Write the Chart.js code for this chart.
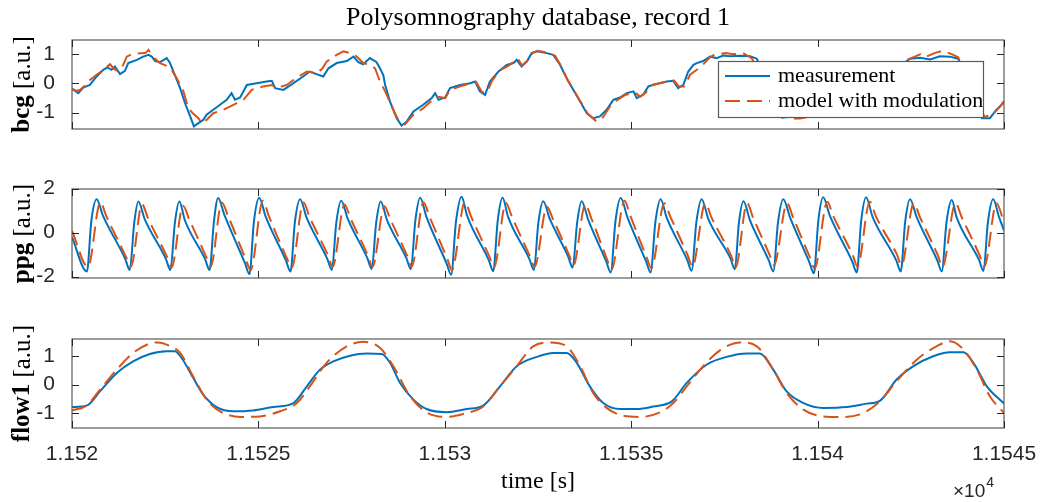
<!DOCTYPE html>
<html><head><meta charset="utf-8">
<script src="https://cdn.jsdelivr.net/npm/chart.js@4.4.1/dist/chart.umd.min.js"></script>
<style>
html,body{margin:0;padding:0;background:#fff;}
#wrap{position:relative;width:1049px;height:502px;background:#fff;}
#wrap canvas{position:absolute;left:0;top:0;}
</style></head><body>
<div id="wrap">
<canvas id="c1" width="1049" height="502"></canvas>
<canvas id="c2" width="1049" height="502"></canvas>
<canvas id="c3" width="1049" height="502"></canvas>
</div>
<script>
// ---- data (time in seconds after T0) ----
const T0 = 11520;
const xTickValues = [11520, 11525, 11530, 11535, 11540, 11545];
const xTickLabels = ['1.152', '1.1525', '1.153', '1.1535', '1.154', '1.1545'];
const bcgTicks = [-1, 0, 1];
const ppgTicks = [-2, 0, 2];
const flowTicks = [-1, 0, 1];

const bcgMeas = [[0.00,-0.18],[0.17,-0.33],[0.30,-0.14],[0.48,-0.05],[0.66,0.24],[0.84,0.47],[0.95,0.55],[1.06,0.47],[1.15,0.58],[1.29,0.32],[1.42,0.43],[1.51,0.70],[1.74,0.81],[1.91,0.92],[2.05,0.98],[2.14,0.92],[2.23,0.77],[2.36,0.73],[2.54,0.87],[2.63,0.70],[2.76,0.29],[2.90,-0.16],[3.03,-0.67],[3.17,-1.13],[3.27,-1.47],[3.39,-1.36],[3.52,-1.25],[3.61,-1.07],[3.79,-0.90],[3.97,-0.73],[4.15,-0.56],[4.28,-0.33],[4.37,-0.56],[4.51,-0.48],[4.69,-0.05],[4.95,0.01],[5.22,0.07],[5.36,0.09],[5.45,-0.16],[5.67,-0.22],[5.94,0.01],[6.20,0.24],[6.38,0.41],[6.56,0.32],[6.74,0.24],[6.88,0.52],[7.10,0.70],[7.37,0.77],[7.55,0.92],[7.68,0.73],[7.81,0.66],[7.99,0.87],[8.17,0.73],[8.26,0.52],[8.35,0.29],[8.40,-0.05],[8.53,-0.62],[8.71,-1.19],[8.84,-1.44],[8.98,-1.30],[9.16,-0.96],[9.42,-0.73],[9.65,-0.50],[9.74,-0.33],[9.83,-0.56],[10.01,-0.48],[10.14,-0.16],[10.41,-0.05],[10.68,0.01],[10.81,0.07],[10.94,-0.27],[11.08,-0.39],[11.21,0.07],[11.44,0.41],[11.66,0.64],[11.84,0.70],[11.93,0.81],[12.06,0.58],[12.20,0.75],[12.33,1.04],[12.47,1.10],[12.73,1.04],[12.91,0.98],[13.09,0.64],[13.27,0.18],[13.45,-0.22],[13.63,-0.62],[13.81,-1.02],[13.98,-1.19],[14.16,-1.13],[14.34,-0.90],[14.52,-0.56],[14.70,-0.48],[14.88,-0.33],[15.06,-0.27],[15.15,-0.50],[15.32,-0.39],[15.46,-0.10],[15.68,-0.02],[15.95,0.07],[16.13,0.09],[16.26,-0.16],[16.40,-0.05],[16.53,0.41],[16.67,0.64],[16.76,0.70],[16.93,0.77],[17.11,0.92],[17.29,0.87],[17.47,0.96],[17.65,0.93],[17.92,0.95],[18.19,0.93],[18.37,0.85],[18.59,0.20],[18.78,-0.60],[18.99,-1.10],[19.05,-1.17],[19.18,-1.15],[19.39,-0.90],[19.66,-0.60],[19.93,-0.45],[20.20,-0.20],[20.60,0.00],[21.00,0.05],[21.41,0.20],[21.81,0.35],[22.16,0.55],[22.48,0.85],[22.75,0.88],[23.02,0.82],[23.28,0.93],[23.55,0.92],[23.77,0.85],[23.95,0.30],[24.14,-0.50],[24.30,-1.00],[24.41,-1.19],[24.62,-1.19],[24.80,-0.90],[25.00,-0.65]];

const bcgModel = [[0.00,-0.18],[0.11,-0.25],[0.21,-0.22],[0.32,-0.10],[0.48,0.12],[0.66,0.30],[0.84,0.47],[1.02,0.66],[1.13,0.50],[1.24,0.41],[1.34,0.55],[1.47,0.92],[1.60,1.00],[1.87,1.04],[1.98,1.05],[2.05,1.15],[2.14,0.98],[2.23,0.85],[2.36,0.70],[2.58,0.58],[2.68,0.45],[2.81,0.18],[2.99,-0.27],[3.12,-0.85],[3.24,-1.02],[3.39,-1.19],[3.48,-1.36],[3.61,-1.25],[3.79,-1.02],[4.06,-0.90],[4.33,-0.73],[4.60,-0.56],[4.82,-0.22],[5.13,-0.10],[5.36,-0.05],[5.49,-0.16],[5.76,-0.05],[5.94,0.12],[6.30,0.41],[6.56,0.35],[6.71,0.50],[6.83,0.75],[7.10,0.98],[7.28,1.10],[7.46,1.04],[7.64,0.92],[7.81,0.70],[7.99,0.64],[8.13,0.52],[8.26,0.07],[8.40,-0.27],[8.48,-0.50],[8.66,-1.02],[8.80,-1.36],[8.93,-1.40],[9.16,-1.07],[9.42,-0.85],[9.66,-0.58],[9.79,-0.45],[10.01,-0.50],[10.14,-0.22],[10.41,-0.10],[10.68,0.00],[10.84,0.05],[11.00,-0.30],[11.13,-0.30],[11.27,0.10],[11.48,0.45],[11.70,0.60],[11.86,0.75],[11.96,0.85],[12.07,0.62],[12.23,0.80],[12.36,1.05],[12.50,1.12],[12.77,1.05],[12.96,0.95],[13.14,0.55],[13.30,0.10],[13.49,-0.30],[13.68,-0.70],[13.84,-1.05],[14.07,-1.30],[14.22,-1.20],[14.43,-0.79],[14.59,-0.60],[14.83,-0.40],[15.10,-0.30],[15.24,-0.45],[15.40,-0.30],[15.56,-0.05],[15.91,0.05],[16.15,0.10],[16.28,-0.10],[16.42,-0.10],[16.58,0.30],[16.76,0.47],[16.93,0.65],[17.11,0.90],[17.25,1.00],[17.54,1.04],[17.73,1.00],[18.00,1.04],[18.19,0.90],[18.24,0.85],[18.45,0.30],[18.72,-0.60],[18.99,-1.05],[19.26,-1.20],[19.53,-1.20],[19.72,-1.15],[20.06,-0.50],[20.60,-0.10],[21.14,0.10],[21.67,0.30],[22.21,0.70],[22.48,0.85],[22.75,1.00],[22.88,0.90],[23.15,1.05],[23.36,1.12],[23.61,1.00],[23.77,0.90],[24.04,0.10],[24.25,-0.70],[24.49,-1.15],[24.70,-1.05],[24.89,-0.80],[25.00,-0.60]];

const ppgMeas = [[0.00,-0.20],
[0.40,-1.77],[0.52,0.55],[0.66,1.52],[0.83,0.77],[1.43,-1.20],
[1.55,-1.70],[1.67,0.45],[1.78,1.41],[1.95,0.61],[2.52,-1.20],
[2.64,-1.70],[2.76,0.45],[2.88,1.41],[3.03,0.55],[3.57,-1.20],
[3.69,-1.70],[3.81,0.55],[3.92,1.57],[4.08,0.84],[4.64,-1.39],
[4.76,-1.89],[4.88,0.50],[5.02,1.58],[5.20,0.70],[5.74,-1.27],
[5.86,-1.77],[5.98,0.50],[6.12,1.52],[6.29,0.69],[6.85,-1.20],
[6.97,-1.70],[7.09,0.45],[7.22,1.45],[7.40,0.61],[7.92,-1.15],
[8.04,-1.65],[8.16,0.45],[8.28,1.41],[8.45,0.57],[8.97,-1.16],
[9.09,-1.66],[9.21,0.55],[9.34,1.58],[9.51,0.70],[10.05,-1.41],
[10.17,-1.91],[10.30,0.50],[10.45,1.63],[10.60,0.76],[11.18,-1.25],
[11.30,-1.75],[11.42,0.55],[11.55,1.58],[11.70,0.70],[12.27,-1.20],
[12.39,-1.70],[12.51,0.45],[12.64,1.42],[12.82,0.61],[13.31,-1.09],
[13.43,-1.59],[13.55,0.45],[13.67,1.42],[13.85,0.57],[14.33,-1.31],
[14.45,-1.81],[14.58,0.55],[14.72,1.57],[14.90,0.69],[15.40,-1.31],
[15.52,-1.81],[15.65,0.50],[15.79,1.52],[15.95,0.69],[16.50,-1.23],
[16.62,-1.73],[16.75,0.50],[16.89,1.52],[17.07,0.61],[17.66,-1.16],
[17.78,-1.66],[17.89,0.45],[18.01,1.42],[18.19,0.54],[18.69,-1.26],
[18.81,-1.76],[18.94,0.50],[19.08,1.52],[19.26,0.69],[19.78,-1.35],
[19.90,-1.85],[20.02,0.55],[20.15,1.60],[20.33,0.76],[20.93,-1.31],
[21.05,-1.81],[21.17,0.55],[21.30,1.60],[21.48,0.69],[22.11,-1.26],
[22.23,-1.76],[22.35,0.50],[22.48,1.52],[22.66,0.69],[23.21,-1.26],
[23.33,-1.76],[23.46,0.50],[23.60,1.48],[23.73,0.69],[24.33,-1.24],
[24.45,-1.74],[24.57,0.50],[24.71,1.52],[24.87,0.69],[25.00,0.10]];

const ppgModel = [[0.00,0.08],
[0.43,-1.55],[0.76,1.37],[0.92,0.75],[1.45,-1.10],
[1.58,-1.55],[1.88,1.28],[2.04,0.65],[2.55,-1.10],
[2.67,-1.58],[2.98,1.22],[3.14,0.62],[3.60,-1.10],
[3.72,-1.55],[4.02,1.37],[4.18,0.78],[4.66,-1.20],
[4.79,-1.70],[5.12,1.45],[5.28,0.75],[5.76,-1.15],
[5.89,-1.62],[6.21,1.37],[6.37,0.72],[6.87,-1.05],
[6.99,-1.55],[7.31,1.28],[7.47,0.65],[7.94,-1.05],
[8.06,-1.55],[8.38,1.20],[8.54,0.60],[8.99,-1.05],
[9.11,-1.55],[9.43,1.37],[9.59,0.72],[10.07,-1.20],
[10.19,-1.70],[10.54,1.40],[10.70,0.75],[11.20,-1.10],
[11.32,-1.58],[11.64,1.35],[11.80,0.72],[12.29,-1.10],
[12.41,-1.55],[12.74,1.17],[12.90,0.62],[13.33,-1.00],
[13.45,-1.48],[13.77,1.28],[13.93,0.65],[14.35,-1.20],
[14.47,-1.70],[14.82,1.45],[14.98,0.75],[15.42,-1.15],
[15.54,-1.62],[15.89,1.33],[16.05,0.72],[16.52,-1.05],
[16.64,-1.55],[16.99,1.33],[17.15,0.70],[17.68,-1.05],
[17.80,-1.58],[18.11,1.33],[18.27,0.68],[18.71,-1.00],
[18.83,-1.48],[19.18,1.33],[19.34,0.70],[19.80,-1.15],
[19.92,-1.62],[20.26,1.40],[20.42,0.75],[20.95,-1.05],
[21.07,-1.55],[21.40,1.40],[21.56,0.75],[22.13,-1.00],
[22.25,-1.48],[22.58,1.33],[22.74,0.72],[23.23,-1.05],
[23.35,-1.55],[23.70,1.33],[23.86,0.72],[24.35,-1.05],
[24.47,-1.55],[24.80,1.33],[25.00,0.45]];

const flowMeas = [[0.00,-0.79],[0.39,-0.74],[0.75,-0.24],[1.20,0.41],[1.64,0.82],[2.09,1.08],[2.54,1.18],[2.76,1.18],[2.94,0.94],[3.25,0.24],[3.52,-0.35],[3.88,-0.79],[4.33,-0.94],[4.86,-0.91],[5.40,-0.79],[5.94,-0.65],[6.30,-0.06],[6.65,0.53],[7.01,0.82],[7.46,1.02],[7.90,1.10],[8.31,1.08],[8.53,0.77],[8.80,0.06],[9.16,-0.53],[9.51,-0.86],[10.05,-0.97],[10.59,-0.86],[11.03,-0.74],[11.48,-0.06],[11.93,0.65],[12.47,0.98],[12.91,1.12],[13.27,1.12],[13.54,0.77],[13.89,-0.06],[14.25,-0.65],[14.70,-0.86],[15.15,-0.86],[15.59,-0.77],[16.09,-0.59],[16.49,0.06],[17.03,0.71],[17.56,0.98],[18.10,1.10],[18.45,1.10],[18.81,0.53],[19.17,-0.24],[19.62,-0.65],[20.15,-0.82],[20.78,-0.79],[21.32,-0.67],[21.67,-0.57],[22.12,0.18],[22.57,0.65],[23.10,1.00],[23.55,1.14],[23.91,1.14],[24.18,0.77],[24.54,-0.06],[25.00,-0.67]];

const flowModel = [[0.00,-0.91],[0.39,-0.74],[0.75,-0.18],[1.20,0.53],[1.64,1.12],[2.09,1.45],[2.31,1.49],[2.54,1.41],[2.90,1.12],[3.25,0.29],[3.61,-0.53],[3.97,-0.94],[4.51,-1.14],[5.04,-1.12],[5.58,-0.94],[6.03,-0.65],[6.38,-0.06],[6.83,0.77],[7.37,1.35],[7.81,1.51],[8.26,1.30],[8.62,0.65],[9.07,-0.41],[9.51,-0.98],[10.05,-1.14],[10.59,-1.00],[11.03,-0.77],[11.48,-0.06],[11.93,0.65],[12.37,1.35],[12.82,1.49],[13.27,1.35],[13.63,0.65],[13.98,-0.29],[14.34,-0.82],[14.79,-1.10],[15.24,-1.14],[15.77,-0.98],[16.13,-0.65],[16.49,-0.06],[16.93,0.65],[17.38,1.21],[17.92,1.49],[18.37,1.35],[18.81,0.53],[19.17,-0.29],[19.62,-0.88],[20.15,-1.12],[20.69,-1.14],[21.23,-1.00],[21.67,-0.59],[22.12,0.12],[22.66,0.88],[23.19,1.35],[23.55,1.53],[23.91,1.24],[24.27,0.53],[24.62,-0.41],[25.00,-1.00]];

// ---- styling ----
const BLUE = '#0072BD', ORANGE = '#D95319';
const DASH = [15, 7];
const TXT = '#262626';
const SANS = 'Liberation Sans', SERIF = 'Liberation Serif';

function pts(pairs) { return pairs.map(p => ({ x: T0 + p[0], y: p[1] })); }

const framePlugin = {
  id: 'frame',
  afterDatasetsDraw(chart) {
    const { ctx, chartArea: a, scales: { x, y } } = chart;
    ctx.save();
    ctx.strokeStyle = '#5a5a5a'; ctx.lineWidth = 1.2;
    ctx.strokeRect(a.left, a.top, a.right - a.left, a.bottom - a.top);
    ctx.strokeStyle = TXT; ctx.lineWidth = 1;
    const L = 7;
    ctx.beginPath();
    x.ticks.forEach(t => {
      const px = Math.round(x.getPixelForValue(t.value)) + 0.5;
      ctx.moveTo(px, a.bottom); ctx.lineTo(px, a.bottom - L);
      ctx.moveTo(px, a.top); ctx.lineTo(px, a.top + L);
    });
    y.ticks.forEach(t => {
      const py = Math.round(y.getPixelForValue(t.value)) + 0.5;
      ctx.moveTo(a.left, py); ctx.lineTo(a.left + L, py);
      ctx.moveTo(a.right, py); ctx.lineTo(a.right - L, py);
    });
    ctx.stroke();
    ctx.restore();
  }
};

function yTitlePlugin(bold, rest) {
  return {
    id: 'ytitle',
    afterDraw(chart) {
      const { ctx, chartArea: a } = chart;
      ctx.save();
      ctx.translate(23, (a.top + a.bottom) / 2);
      ctx.rotate(-Math.PI / 2);
      const fb = 'bold 25px "' + SERIF + '"', fr = '25px "' + SERIF + '"';
      ctx.font = fb; const wb = ctx.measureText(bold).width;
      ctx.font = fr; const wr = ctx.measureText(rest).width;
      const x0 = -(wb + wr) / 2;
      ctx.fillStyle = '#000'; ctx.textBaseline = 'middle'; ctx.textAlign = 'left';
      ctx.font = fb; ctx.fillText(bold, x0, 0);
      ctx.font = fr; ctx.fillText(rest, x0 + wb, 0);
      ctx.restore();
    }
  };
}

const titlePlugin = {
  id: 'mainTitle',
  afterDraw(chart) {
    const { ctx, chartArea: a } = chart;
    ctx.save();
    ctx.font = '26px "' + SERIF + '"';
    ctx.fillStyle = '#000'; ctx.textAlign = 'center'; ctx.textBaseline = 'middle';
    ctx.fillText('Polysomnography database, record 1', (a.left + a.right) / 2, 18);
    ctx.restore();
  }
};

const legendPlugin = {
  id: 'boxLegend',
  afterDraw(chart) {
    const { ctx } = chart;
    const ds = chart.data.datasets;
    const bx = 718, by = 61, bw = 265, bh = 56;
    ctx.save();
    ctx.fillStyle = '#fff';
    ctx.fillRect(bx, by, bw, bh);
    ctx.strokeStyle = '#5a5a5a'; ctx.lineWidth = 1.2;
    ctx.strokeRect(bx + 0.5, by + 0.5, bw, bh);
    const rows = [76, 101];
    ds.forEach((d, i) => {
      const yy = rows[i];
      ctx.beginPath();
      ctx.setLineDash(d.borderDash || []);
      ctx.strokeStyle = d.borderColor; ctx.lineWidth = d.borderWidth;
      ctx.moveTo(725, yy); ctx.lineTo(770, yy); ctx.stroke();
      ctx.setLineDash([]);
      ctx.font = '22px "' + SERIF + '"';
      ctx.fillStyle = '#000'; ctx.textAlign = 'left'; ctx.textBaseline = 'middle';
      ctx.fillText(d.label, 778, yy);
    });
    ctx.restore();
  }
};

const exponentPlugin = {
  id: 'exponent',
  afterDraw(chart) {
    const { ctx } = chart;
    ctx.save();
    ctx.fillStyle = TXT; ctx.textAlign = 'left'; ctx.textBaseline = 'alphabetic';
    ctx.font = '19px "' + SANS + '"';
    ctx.fillText('\u00d710', 953, 497);
    const w = ctx.measureText('\u00d710').width;
    ctx.font = '14px "' + SANS + '"';
    ctx.fillText('4', 953 + w + 1, 487);
    ctx.restore();
  }
};

function makeChart(id, cfg) {
  return new Chart(document.getElementById(id), {
    type: 'line',
    data: {
      datasets: [
        { label: 'measurement', data: pts(cfg.meas), borderColor: BLUE, borderWidth: 2,
          pointRadius: 0, fill: false, order: 1,
          cubicInterpolationMode: cfg.smooth ? 'monotone' : 'default', tension: 0 },
        { label: 'model with modulation', data: pts(cfg.model), borderColor: ORANGE, borderWidth: 2,
          borderDash: DASH, pointRadius: 0, fill: false, order: 0,
          cubicInterpolationMode: cfg.smooth ? 'monotone' : 'default', tension: 0 }
      ]
    },
    options: {
      responsive: false, animation: false, events: [],
      layout: { padding: { left: 0, right: 45, top: cfg.top, bottom: cfg.bottom } },
      plugins: { legend: { display: false }, tooltip: { enabled: false }, title: { display: false } },
      scales: {
        x: {
          type: 'linear', min: xTickValues[0], max: xTickValues[xTickValues.length - 1],
          grid: { display: false }, border: { display: false },
          afterBuildTicks: s => { s.ticks = xTickValues.map(v => ({ value: v })); },
          ticks: {
            display: cfg.showX, autoSkip: false, maxRotation: 0, padding: 6, color: TXT,
            font: { family: SANS, size: 21 },
            callback: v => xTickLabels[xTickValues.indexOf(v)]
          },
          title: cfg.showX ? { display: true, text: 'time [s]', color: '#000',
            font: { family: SERIF, size: 24 }, padding: { top: 0, bottom: 2 } } : { display: false },
          afterFit: s => { s.height = cfg.xH; }
        },
        y: {
          min: cfg.ymin, max: cfg.ymax,
          grid: { display: false }, border: { display: false },
          afterBuildTicks: s => { s.ticks = cfg.yticks.map(v => ({ value: v })); },
          ticks: { padding: 9, color: TXT, font: { family: SANS, size: 21 } },
          afterFit: s => { s.width = 72; }
        }
      }
    },
    plugins: cfg.plugins
  });
}

makeChart('c1', { meas: bcgMeas, model: bcgModel, smooth: false, top: 40, bottom: 373, xH: 0,
  showX: false, ymin: -1.56, ymax: 1.49, yticks: bcgTicks,
  plugins: [framePlugin, yTitlePlugin('bcg', ' [a.u.]'), titlePlugin, legendPlugin] });
makeChart('c2', { meas: ppgMeas, model: ppgModel, smooth: true, top: 189, bottom: 224, xH: 0,
  showX: false, ymin: -2.06, ymax: 1.98, yticks: ppgTicks,
  plugins: [framePlugin, yTitlePlugin('ppg', ' [a.u.]')] });
makeChart('c3', { meas: flowMeas, model: flowModel, smooth: true, top: 339, bottom: 4, xH: 70,
  showX: true, ymin: -1.53, ymax: 1.61, yticks: flowTicks,
  plugins: [framePlugin, yTitlePlugin('flow1', ' [a.u.]'), exponentPlugin] });
</script>
</body></html>
